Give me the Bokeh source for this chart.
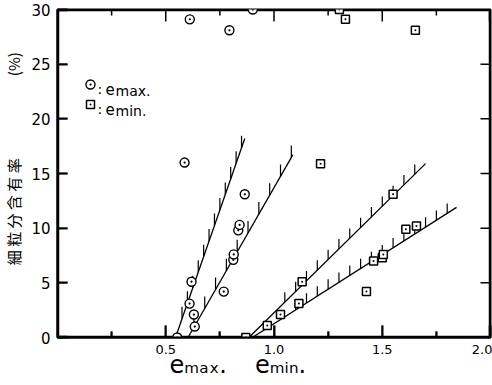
import numpy as np
from bokeh.plotting import figure
from bokeh.models import LinearAxis, FixedTicker, Label, Range1d, NumeralTickFormatter
from bokeh.embed import file_html
from bokeh.resources import INLINE

# ---- data ----
emax_x = [0.553, 0.610, 0.619, 0.630, 0.634, 0.768, 0.812, 0.814, 0.835, 0.841, 0.865, 0.587, 0.611, 0.794, 0.902]
emax_y = [0.0, 3.1, 5.1, 2.1, 1.0, 4.2, 7.1, 7.6, 9.8, 10.3, 13.1, 16.0, 29.1, 28.1, 30.0]

emin_x = [0.870, 0.969, 1.030, 1.115, 1.130, 1.427, 1.460, 1.500, 1.505, 1.550, 1.609, 1.658, 1.215, 1.302, 1.330, 1.653]
emin_y = [0.0, 1.1, 2.1, 3.1, 5.1, 4.2, 7.0, 7.3, 7.6, 13.1, 9.9, 10.2, 15.9, 30.0, 29.1, 28.1]

# boundary lines (start/end points)
line_x0 = [0.545, 0.603, 0.884, 0.900]
line_y0 = [0.0, 0.0, 0.0, 0.0]
line_x1 = [0.865, 1.087, 1.700, 1.843]
line_y1 = [18.2, 16.7, 15.9, 11.9]
# hatch marks along each line (x from, x to, step)
hatch_from = [0.575, 0.63, 1.05, 1.10]
hatch_to = [0.86, 1.08, 1.65, 1.80]
hatch_step = [0.025, 0.05, 0.05, 0.05]
hatch_len = [1.1, 1.1, 0.9, 0.9]

x_major = [0.5, 1.0, 1.5, 2.0]
x_minor = [0.25, 0.75, 1.25, 1.75]
y_ticks = [0, 5, 10, 15, 20, 25, 30]
y_ticks_right = [5, 10, 15, 20, 25]

x_title_pos = [0.65, 1.03]
x_title_text = ["eₘₐₓ.", "eₘᵢₙ."]
y_title_pos = [11.5, 25.0]
y_title_text = ["細 粒 分 含 有 率", "(%)"]

# ---- layout ----
FL, FR, FT, FB = 57, 490, 9, 337
XMIN, XMAX, YMIN, YMAX = 0.0, 2.0, 0.0, 30.0
xr = XMAX - XMIN
yr = YMAX - YMIN
INK = "#000000"
PXX = xr / (FR - FL)   # data units per pixel, x
PXY = yr / (FB - FT)   # data units per pixel, y

p = figure(width=492, height=385, x_range=Range1d(XMIN, XMAX), y_range=Range1d(YMIN, YMAX),
           output_backend="svg", toolbar_location=None,
           background_fill_color="#ffffff", border_fill_color="#ffffff",
           min_border_left=FL, min_border_right=492 - FR, min_border_top=FT, min_border_bottom=385 - FB)
p.xgrid.visible = False
p.ygrid.visible = False
p.outline_line_color = INK
p.outline_line_width = 2

FONT = "DejaVu Sans"

xa = p.xaxis[0]
xa.ticker = FixedTicker(ticks=x_major, minor_ticks=x_minor)
xa.formatter = NumeralTickFormatter(format="0.0")
xa.major_tick_in = 12
xa.major_tick_out = 0
xa.minor_tick_in = 6
xa.minor_tick_out = 0
xa.major_label_standoff = 7
xa.major_label_text_font = FONT
xa.major_label_text_font_size = "13px"
xa.major_label_text_color = INK
xa.axis_line_color = INK
xa.major_tick_line_color = INK
xa.minor_tick_line_color = INK
xa.axis_line_width = 2
xa.major_tick_line_width = 2
xa.minor_tick_line_width = 2

ya = p.yaxis[0]
ya.ticker = FixedTicker(ticks=y_ticks, minor_ticks=[])
ya.major_tick_in = 10
ya.major_tick_out = 0
ya.minor_tick_in = 0
ya.minor_tick_out = 0
ya.major_label_standoff = 7
ya.major_label_text_font = FONT
ya.major_label_text_font_size = "15px"
ya.major_label_text_color = INK
ya.axis_line_color = INK
ya.major_tick_line_color = INK
ya.axis_line_width = 2
ya.major_tick_line_width = 2

# axis titles as label-only axes
xt = LinearAxis(ticker=FixedTicker(ticks=x_title_pos, minor_ticks=[]),
                major_label_overrides=dict(zip(x_title_pos, x_title_text)),
                axis_line_color=None, major_tick_line_color=None, minor_tick_line_color=None,
                major_tick_in=0, major_tick_out=0, minor_tick_in=0, minor_tick_out=0,
                major_label_standoff=-6, major_label_text_font=FONT,
                major_label_text_font_size="24px", major_label_text_color=INK)
p.add_layout(xt, "below")

yt = LinearAxis(ticker=FixedTicker(ticks=y_title_pos, minor_ticks=[]),
                major_label_overrides=dict(zip(y_title_pos, y_title_text)),
                major_label_orientation="vertical",
                axis_line_color=None, major_tick_line_color=None, minor_tick_line_color=None,
                major_tick_in=0, major_tick_out=0, minor_tick_in=0, minor_tick_out=0,
                major_label_standoff=4, major_label_text_font="Noto Sans CJK JP",
                major_label_text_font_size="15px", major_label_text_color=INK)
p.add_layout(yt, "left")

# frame drawn as a glyph, 1 px inside the plot area
ins_x = 1 * PXX
ins_y = 1 * PXY
p.multi_line(xs=[[XMIN + ins_x, XMAX - ins_x, XMAX - ins_x, XMIN + ins_x, XMIN + ins_x]],
             ys=[[YMIN + ins_y, YMIN + ins_y, YMAX - ins_y, YMAX - ins_y, YMIN + ins_y]],
             line_color=INK, line_width=1.5)

# ticks on all four edges (pointing inward), starting just inside the frame
tick_x = x_major + x_minor
tick_len = [12] * len(x_major) + [6] * len(x_minor)
bx0, by0, bx1, by1 = [], [], [], []
for x, l in zip(tick_x, tick_len):
    xx = min(x, XMAX - ins_x)
    # top
    bx0.append(xx); by0.append(YMAX - ins_y); bx1.append(xx); by1.append(YMAX - l * PXY)
    # bottom
    bx0.append(xx); by0.append(YMIN + ins_y); bx1.append(xx); by1.append(YMIN + l * PXY)
for y in y_ticks_right:
    # right
    bx0.append(XMAX - ins_x); by0.append(y); bx1.append(XMAX - 10 * PXX); by1.append(y)
for y in y_ticks:
    yy = min(max(y, YMIN + ins_y), YMAX - ins_y)
    # left
    bx0.append(XMIN + ins_x); by0.append(yy); bx1.append(XMIN + 10 * PXX); by1.append(yy)
p.segment(x0=bx0, y0=by0, x1=bx1, y1=by1, line_color=INK, line_width=1.5)

# boundary lines
p.segment(x0=line_x0, y0=line_y0, x1=line_x1, y1=line_y1, line_color=INK, line_width=1.3)

# hatches (short vertical strokes on the upper side of each line)
hx, hy0, hy1 = [], [], []
for i in range(len(line_x0)):
    slope = (line_y1[i] - line_y0[i]) / (line_x1[i] - line_x0[i])
    for x in np.arange(hatch_from[i], hatch_to[i] + 1e-9, hatch_step[i]):
        y = line_y0[i] + (x - line_x0[i]) * slope
        hx.append(x)
        hy0.append(y)
        hy1.append(y + hatch_len[i])
p.segment(x0=hx, y0=hy0, x1=hx, y1=hy1, line_color=INK, line_width=1.2)

# points
p.scatter(emax_x, emax_y, marker="circle_dot", size=9, line_color=INK, line_width=1.4,
          fill_color="#ffffff")
p.scatter(emin_x, emin_y, marker="square_dot", size=8, line_color=INK, line_width=1.5,
          fill_color="#ffffff")


# legend (inside the frame)
def dx(px):
    return XMIN + (px - FL) / (FR - FL) * xr


def dy(py):
    return YMIN + (FB - py) / (FB - FT) * yr


p.scatter([dx(90)], [dy(84)], marker="circle_dot", size=9, line_color=INK, line_width=1.4, fill_color="#ffffff")
p.scatter([dx(90)], [dy(104)], marker="square_dot", size=8, line_color=INK, line_width=1.5, fill_color="#ffffff")


def lab(px, py, text, size):
    p.add_layout(Label(x=px - FL, y=FB - py, x_units="screen", y_units="screen",
                       text=text, text_font=FONT, text_font_size=f"{size}px",
                       text_align="left", text_baseline="alphabetic", text_color=INK))


lab(97, 88, ":", 14)
lab(105, 88, "e", 15)
lab(115, 90.5, "max.", 14)
lab(97, 108, ":", 14)
lab(105, 108, "e", 15)
lab(115, 110.5, "min.", 14)

open("out.html", "w").write(file_html(p, INLINE))
